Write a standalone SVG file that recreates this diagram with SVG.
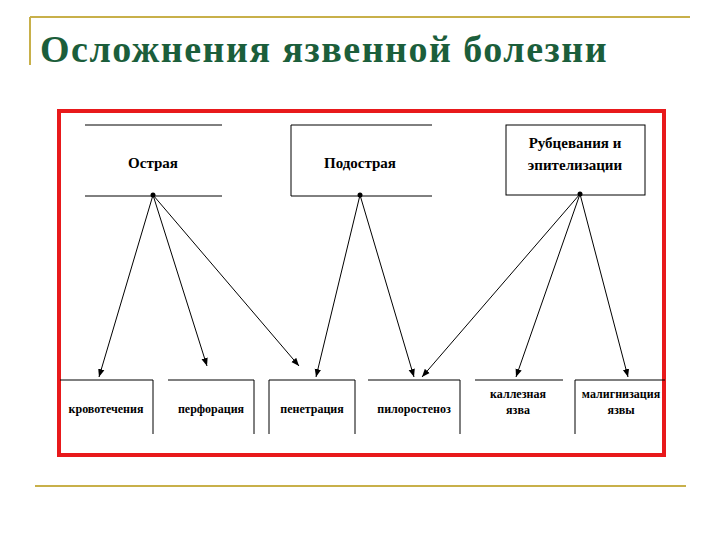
<svg xmlns="http://www.w3.org/2000/svg" width="720" height="540" viewBox="0 0 720 540">
<defs>
<marker id="ah" viewBox="0 0 10 10" refX="10" refY="5" markerWidth="8" markerHeight="8" orient="auto" markerUnits="userSpaceOnUse"><path d="M0,1 L10,5 L0,9 z" fill="#000"/></marker>
</defs>
<style>
.t{font-family:"Liberation Serif","Times New Roman",serif;font-weight:bold;font-size:15px;fill:#000;text-anchor:middle}
.s{font-family:"Liberation Serif","Times New Roman",serif;font-weight:bold;font-size:12px;fill:#000;text-anchor:middle}
.b{fill:none;stroke:#000;stroke-width:1}
.c{stroke:#000;stroke-width:1;fill:none;marker-end:url(#ah)}
</style>
<rect width="720" height="540" fill="#fff"/>
<g id="decor" stroke="#c8b04a" stroke-width="2" fill="none">
<path d="M30,17 H690 M30,17 V65"/>
<path d="M35,486 H686"/>
</g>
<text x="40" y="62" font-family="'Liberation Serif',serif" font-weight="bold" font-size="38" fill="#1b5e3b" letter-spacing="1.5">Осложнения язвенной болезни</text>
<rect x="59" y="111" width="605" height="344" fill="none" stroke="#e8191b" stroke-width="4"/>
<g id="n_acute"><path class="b" d="M85,125 H222 M85,196 H222"/><text class="t" x="153" y="168">Острая</text></g>
<g id="n_subacute"><path class="b" d="M432,125 H291 V196 H432"/><text class="t" x="360" y="168">Подострая</text></g>
<g id="n_scar"><rect class="b" x="506" y="125" width="139" height="70"/><text class="t" x="575" y="148">Рубцевания и</text><text class="t" x="575" y="170">эпителизации</text></g>
<g id="n1"><path class="b" d="M60,380 H153 V434"/><text class="s" x="106" y="413">кровотечения</text></g>
<g id="n2"><path class="b" d="M168,380 H254 V434"/><text class="s" x="211" y="413">перфорация</text></g>
<g id="n3"><path class="b" d="M269,434 V380 H355 V434"/><text class="s" x="312" y="413">пенетрация</text></g>
<g id="n4"><path class="b" d="M368,380 H460 V434"/><text class="s" x="414" y="413">пилоростеноз</text></g>
<g id="n5"><path class="b" d="M475,380 H563"/><text class="s" x="518" y="398">каллезная</text><text class="s" x="518" y="414">язва</text></g>
<g id="n6"><path class="b" d="M575,434 V380 H665"/><text class="s" x="621" y="398">малигнизация</text><text class="s" x="621" y="414">язвы</text></g>
<g id="connectors">
<circle cx="153" cy="195" r="2.5"/><circle cx="360" cy="195" r="2.5"/><circle cx="580" cy="194" r="2.5"/>
<line class="c" x1="153" y1="195" x2="99" y2="377"/>
<line class="c" x1="153" y1="195" x2="207" y2="366"/>
<line class="c" x1="153" y1="195" x2="299" y2="366"/>
<line class="c" x1="360" y1="195" x2="316" y2="377"/>
<line class="c" x1="360" y1="195" x2="414" y2="377"/>
<line class="c" x1="580" y1="194" x2="422" y2="377"/>
<line class="c" x1="580" y1="194" x2="516" y2="377"/>
<line class="c" x1="580" y1="194" x2="628" y2="377"/>
</g>
</svg>
